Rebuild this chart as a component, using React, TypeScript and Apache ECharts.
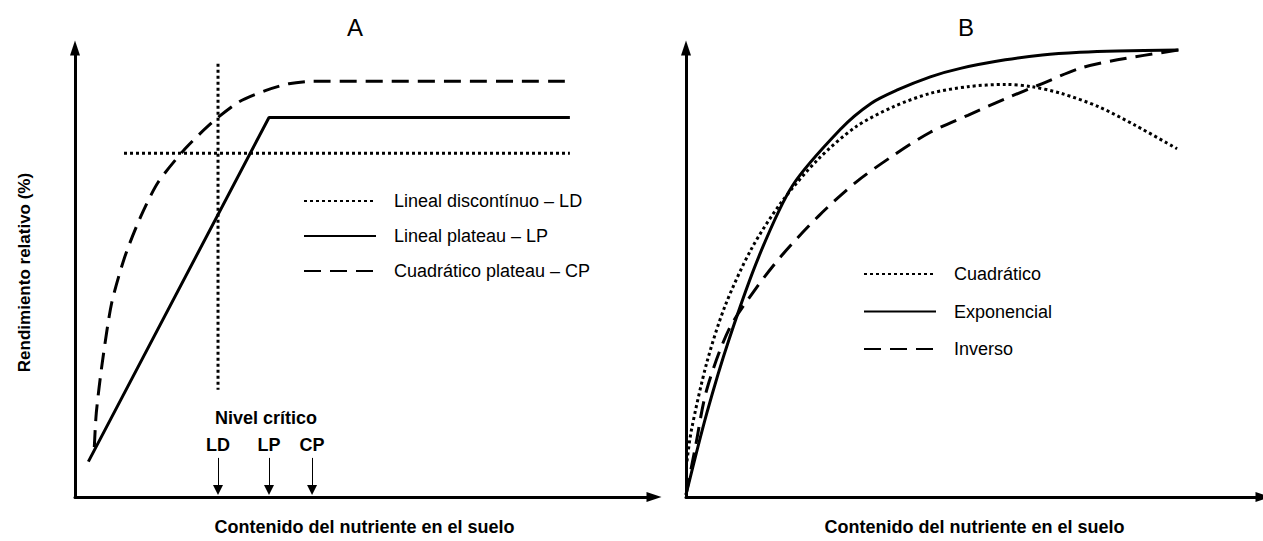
import { useEffect, useRef } from 'react';
import * as echarts from 'echarts';

// ---------- Panel A: yield response models with a plateau ----------
const criticalNames = ['LD', 'LP', 'CP'];
const criticalLevels = [28.9, 39.2, 47.9]; // nutrient content at each critical level
const ldYield = 82.7;
const lpYield = 91.3;
const cpYield = 100;

const ldVerticalSpan = [104.2, 25.8];
const ldHorizontalStart = 9.9;
const plateauEnd = 100;

const lpStart = [2.7, 8.5];

const cpRise = [
  [3.9, 12.0],
  [4.3, 20.2],
  [5.5, 32.2],
  [7.4, 46.6],
  [10.1, 57.9],
  [13.3, 67.5],
  [16.8, 75.7],
  [22.2, 83.7],
  [27.7, 90.1],
  [33.1, 95.0],
  [38.6, 97.8],
  [43.2, 99.4],
];

const arrowTop = 9.4;
const arrowBottom = 1.7;

// ---------- Panel B: continuous response models ----------
const quadratic = [
  [0.2, 8.0], [1.1, 15.0], [4.2, 30.0], [7.9, 42.7], [13.2, 55.4], [19.3, 65.9],
  [26.9, 75.7], [34.4, 82.8], [42.0, 87.3], [49.5, 90.3], [57.1, 91.8], [64.7, 92.3],
  [70.0, 91.8], [76.0, 90.3], [83.6, 87.3], [91.1, 83.1], [99.5, 77.9],
];

const exponential = [
  [0, 0.5], [4.2, 18.7], [8.7, 35.2], [14.8, 53.9], [21.6, 69.7], [31.4, 82.4],
  [37.4, 88.0], [42.7, 91.0], [49.5, 94.0], [55.6, 95.9], [64.7, 97.8], [72.2, 98.9],
  [79.8, 99.5], [87.4, 99.8], [99.8, 100],
];

const inverse = [
  [0, 0.5], [1.9, 11.2], [4.2, 24.0], [8.7, 37.5], [14.0, 46.4], [19.3, 53.9],
  [26.9, 62.9], [34.4, 70.4], [42.0, 76.4], [49.5, 81.6], [57.1, 85.4], [64.7, 89.1],
  [72.2, 92.5], [79.8, 95.9], [87.4, 97.8], [99.8, 100],
];

const namesA = ['Lineal discontínuo – LD', 'Lineal plateau – LP', 'Cuadrático plateau – CP'];
const namesB = ['Cuadrático', 'Exponencial', 'Inverso'];

const FONT = '"Liberation Sans", Arial, Helvetica, sans-serif';
const INK = '#000';
const DOTS = [3, 3];
const DASHES = [17, 9];

export default function App() {
  const ref = useRef<HTMLDivElement>(null);

  useEffect(() => {
    if (!ref.current) return;
    const chart = echarts.init(ref.current, undefined, { renderer: 'svg' });

    const axisLine = (arrow: boolean) => ({
      show: true,
      onZero: false,
      symbol: arrow ? ['none', 'triangle'] : ['none', 'none'],
      symbolSize: [10, 15],
      lineStyle: { color: INK, width: 3 },
    });
    const bare = { axisTick: { show: false }, axisLabel: { show: false }, splitLine: { show: false } };
    const xName = {
      name: 'Contenido del nutriente en el suelo',
      nameLocation: 'middle' as const,
      nameGap: 21,
      nameTextStyle: { fontFamily: FONT, fontWeight: 'bold' as const, fontSize: 18, color: INK },
    };

    const line = (name: string, data: number[][], dash: any, axis: number, smooth: number | boolean = false) => ({
      type: 'line' as const,
      name,
      xAxisIndex: axis,
      yAxisIndex: axis,
      data,
      smooth,
      symbol: 'none',
      showSymbol: false,
      lineStyle: { color: INK, width: 3, type: dash, cap: 'butt' as const },
      itemStyle: { color: INK },
      silent: true,
    });

    const legendBase = {
      orient: 'vertical' as const,
      itemWidth: 72,
      itemHeight: 14,
      selectedMode: false,
      itemStyle: { color: 'rgba(0,0,0,0)', borderColor: 'rgba(0,0,0,0)', borderWidth: 0, opacity: 0 },
      textStyle: { fontFamily: FONT, fontSize: 18, lineHeight: 20, color: INK, padding: [0, 0, 0, 13] },
    };

    const [ldX, lpX, cpX] = criticalLevels;

    chart.setOption({
      animation: false,
      textStyle: { fontFamily: FONT, color: INK },
      grid: [
        { left: 75, top: 48, width: 579, height: 449 },
        { left: 686, top: 48, width: 583.5, height: 449 },
      ],
      xAxis: [
        { type: 'value', gridIndex: 0, min: 0, max: 117, axisLine: axisLine(true), ...bare, ...xName },
        { type: 'value', gridIndex: 1, min: 0, max: 116.9, axisLine: axisLine(true), ...bare, ...xName },
      ],
      yAxis: [
        {
          type: 'value', gridIndex: 0, min: 0, max: 108, axisLine: axisLine(true), ...bare,
          name: 'Rendimiento relativo (%)',
          nameLocation: 'middle',
          nameRotate: 90,
          nameGap: 42,
          nameTextStyle: { fontFamily: FONT, fontWeight: 'bold', fontSize: 17, color: INK },
        },
        { type: 'value', gridIndex: 1, min: 0, max: 100.45, axisLine: axisLine(true), ...bare },
      ],
      legend: [
        { ...legendBase, data: namesA, left: 298, top: 186, itemGap: 15 },
        { ...legendBase, data: namesB, left: 858, top: 259, itemGap: 17.5 },
      ],
      series: [
        line(namesA[0], [[ldX, ldVerticalSpan[0]], [ldX, ldVerticalSpan[1]]], DOTS, 0),
        line(namesA[0], [[ldHorizontalStart, ldYield], [plateauEnd, ldYield]], DOTS, 0),
        {
          ...line(namesA[1], [lpStart, [lpX, lpYield], [plateauEnd, lpYield]], 'solid', 0),
          markLine: {
            silent: true,
            animation: false,
            symbol: ['none', 'triangle'],
            symbolSize: [10, 10],
            lineStyle: { color: INK, width: 1, type: 'solid' },
            label: {
              show: true,
              position: 'start',
              formatter: '{b}',
              fontFamily: FONT,
              fontWeight: 'bold',
              fontSize: 18,
              color: INK,
              distance: 4,
            },
            data: criticalLevels.map((x, i) => [
              { name: criticalNames[i], coord: [x, arrowTop] },
              { coord: [x, arrowBottom] },
            ]),
          },
        },
        line(namesA[2], [...cpRise, [cpX, cpYield], [plateauEnd, cpYield]], DASHES, 0, 0.25),
        line(namesB[0], quadratic, DOTS, 1, 0.3),
        line(namesB[1], exponential, 'solid', 1, 0.3),
        line(namesB[2], inverse, DASHES, 1, 0.3),
      ],
      graphic: [
        {
          type: 'text', x: 355, y: 27,
          style: { text: 'A', fontFamily: FONT, fontSize: 24, fill: INK, textAlign: 'center', textVerticalAlign: 'middle' },
        },
        {
          type: 'text', x: 966, y: 27,
          style: { text: 'B', fontFamily: FONT, fontSize: 24, fill: INK, textAlign: 'center', textVerticalAlign: 'middle' },
        },
        {
          type: 'text', x: 266, y: 418,
          style: {
            text: 'Nivel crítico', fontFamily: FONT, fontSize: 18, fontWeight: 'bold', fill: INK,
            textAlign: 'center', textVerticalAlign: 'middle',
          },
        },
      ],
    });

    return () => chart.dispose();
  }, []);

  return (
    <div
      ref={ref}
      style={{ position: 'absolute', left: 0, top: 0, width: 1263, height: 541, background: '#fff' }}
    />
  );
}
